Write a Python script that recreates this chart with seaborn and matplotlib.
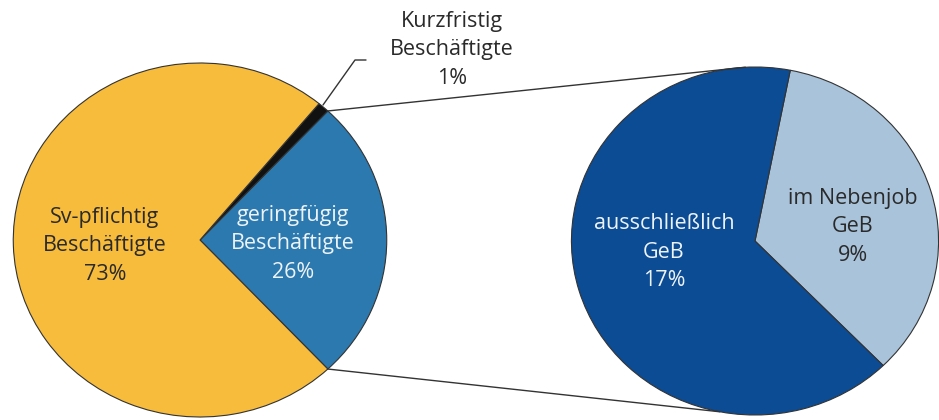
import matplotlib
matplotlib.use("Agg")
import matplotlib.pyplot as plt
import seaborn as sns
import numpy as np

# Daten
haupt_labels = ["geringfügig\nBeschäftigte", "Kurzfristig\nBeschäftigte", "Sv-pflichtig\nBeschäftigte"]
haupt_werte = [26, 1, 73]
haupt_farben = ["#2B79AE", "#111111", "#F7BC3C"]

neben_labels = ["im Nebenjob\nGeB", "ausschließlich\nGeB"]
neben_werte = [9, 17]
neben_farben = ["#A9C3DB", "#0B4C95"]

sns.set_theme(style="white")
plt.rcParams['font.family'] = ['Open Sans', 'DejaVu Sans']

# Pixel -> Datenkoordinaten (Bild ist leicht horizontal gestreckt)
SX = 1.055
def px(x, y):
    return x / SX, 420 - y

fig = plt.figure(figsize=(9.39, 4.2), dpi=100)
ax = fig.add_axes([0, 0, 1, 1])

kante = dict(edgecolor="#333333", linewidth=0.8)

# linker Kreis
c1 = px(200, 240)
r1 = 177
start1 = -46.8
ax.pie(haupt_werte, colors=haupt_farben, startangle=start1, counterclock=True,
       center=c1, radius=r1, wedgeprops=kante, frame=True)

# rechter Kreis
c2 = px(755, 241)
r2 = 174
ax.pie(neben_werte, colors=neben_farben, startangle=-45.7, counterclock=True,
       center=c2, radius=r2, wedgeprops=kante, frame=True)
ax.set_xlim(0, 939 / SX)
ax.set_ylim(0, 420)
ax.set_aspect('auto')
ax.axis('off')

# Verbindungslinien
halb = haupt_werte[0] / sum(haupt_werte) * 360 / 2
for a_links, a_rechts in [(start1 + 2 * halb, 93), (start1, 259)]:
    p1 = (c1[0] + r1 * np.cos(np.radians(a_links)), c1[1] + r1 * np.sin(np.radians(a_links)))
    p2 = (c2[0] + r2 * np.cos(np.radians(a_rechts)), c2[1] + r2 * np.sin(np.radians(a_rechts)))
    ax.plot([p1[0], p2[0]], [p1[1], p2[1]], color="#333333", lw=1.0)

# Beschriftungen
fs = 15.5
ls = 1.45
dunkel = "#2a2a2a"
hell = "#eef3f8"
prozent = lambda v: f"{v}%"
beschriftungen = [
    (haupt_labels[2], haupt_werte[2], (105, 246), dunkel),
    (haupt_labels[0], haupt_werte[0], (293, 244), hell),
    (haupt_labels[1], haupt_werte[1], (452, 50), dunkel),
    (neben_labels[1], neben_werte[1], (664, 252), hell),
    (neben_labels[0], neben_werte[0], (853, 227), dunkel),
]
for text, wert, pos, farbe in beschriftungen:
    x, y = px(*pos)
    ax.text(x, y, text + "\n" + prozent(wert), ha='center', va='center',
            fontsize=fs, color=farbe, linespacing=ls)

# Führungslinie für Kurzfristig
lx, ly = zip(px(323, 105), px(355, 60), px(366, 60))
ax.plot(lx, ly, color="#333333", lw=1.0)

fig.savefig("out.png", dpi=100)
